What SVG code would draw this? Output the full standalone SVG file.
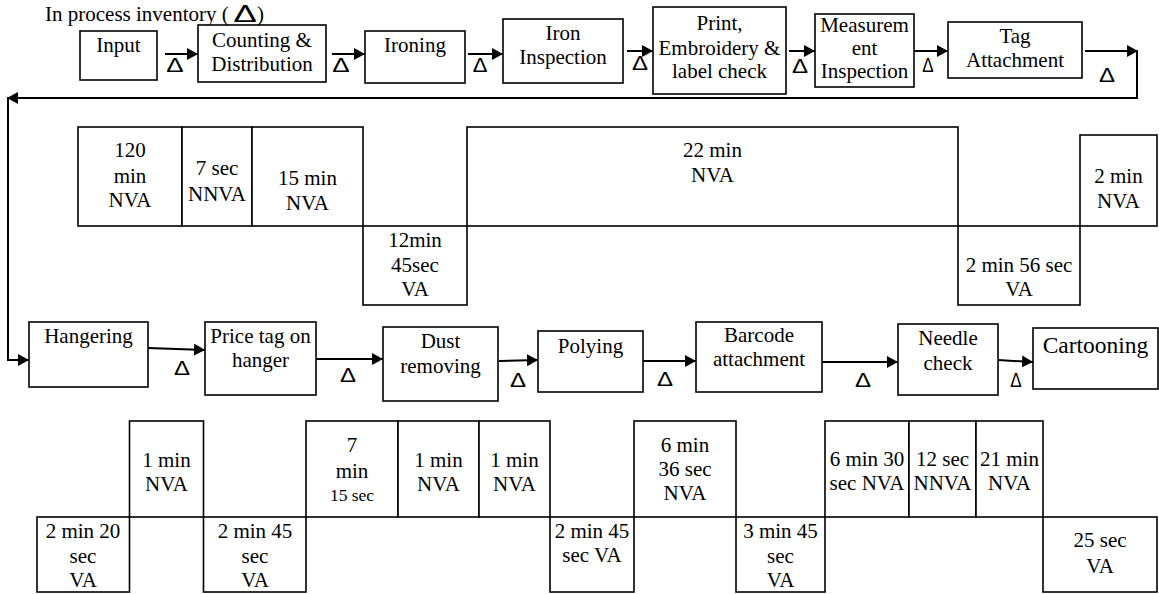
<svg xmlns="http://www.w3.org/2000/svg" width="1159" height="594" viewBox="0 0 1159 594">
<defs>
<marker id="ah" markerUnits="userSpaceOnUse" markerWidth="12" markerHeight="12" refX="11" refY="6" orient="auto">
<path d="M0,0 L11,6 L0,12 z" fill="#000"/>
</marker>
<style>
rect{fill:#fff;stroke:#000;stroke-width:1.6}
text{font-family:"Liberation Serif","Times New Roman",serif;font-size:21px;fill:#000;text-anchor:middle}
.s{font-size:17.5px}
.c{font-size:23.5px}
.l{text-anchor:start}
.d{font-family:"Liberation Sans",Arial,sans-serif;font-size:20px}
.hd{font-family:"Liberation Sans",Arial,sans-serif;font-size:24px}
#connectors path{fill:none;stroke:#000;stroke-width:2}
</style>
</defs>
<rect x="0" y="0" width="1159" height="594" style="fill:#fff;stroke:none"/>
<g id="legend">
<text class="l" x="45" y="21">In process inventory (</text>
<text class="hd" transform="translate(245,22) scale(1.45,1)">Δ</text>
<text class="l" x="257" y="21">)</text>
</g>
<g id="connectors">
<path d="M165,54 H198" marker-end="url(#ah)"/>
<path d="M332,54 H365" marker-end="url(#ah)"/>
<path d="M468,54 H503" marker-end="url(#ah)"/>
<path d="M627,51 H653" marker-end="url(#ah)"/>
<path d="M789,51 H815" marker-end="url(#ah)"/>
<path d="M914,51 H948" marker-end="url(#ah)"/>
<path d="M1085,51 H1138" marker-end="url(#ah)"/>
<path d="M1137,51 V98 H7" marker-end="url(#ah)"/>
<path d="M8,98 V360 H29" marker-end="url(#ah)"/>
<path d="M148,348 L205,350" marker-end="url(#ah)"/>
<path d="M316,359 H383" marker-end="url(#ah)"/>
<path d="M499,361 L538,360" marker-end="url(#ah)"/>
<path d="M643,361 H696" marker-end="url(#ah)"/>
<path d="M822,362 H898" marker-end="url(#ah)"/>
<path d="M998,360 L1033,362" marker-end="url(#ah)"/>
</g>
<g id="inventory">
<text class="d" transform="translate(175,72) scale(1.3,1)">Δ</text>
<text class="d" transform="translate(341,72) scale(1.3,1)">Δ</text>
<text class="d" transform="translate(480,72) scale(1.1,1)">Δ</text>
<text class="d" transform="translate(640,70) scale(1.2,1)">Δ</text>
<text class="d" transform="translate(800,73) scale(1.2,1)">Δ</text>
<text class="d" transform="translate(928,72) scale(0.85,1)">Δ</text>
<text class="d" transform="translate(1107,82) scale(1.2,1)">Δ</text>
<text class="d" transform="translate(182,375) scale(1.2,1)">Δ</text>
<text class="d" transform="translate(348,382) scale(1.2,1)">Δ</text>
<text class="d" transform="translate(518,387) scale(1.2,1)">Δ</text>
<text class="d" transform="translate(665,386) scale(1.2,1)">Δ</text>
<text class="d" transform="translate(863,387) scale(1.2,1)">Δ</text>
<text class="d" transform="translate(1016,387) scale(0.85,1)">Δ</text>
</g>
<g id="input"><rect x="80" y="31" width="77" height="49"/><text x="118.5" y="52">Input</text></g>
<g id="counting"><rect x="198" y="25" width="128" height="57"/><text x="262" y="47">Counting &amp;</text><text x="262" y="71">Distribution</text></g>
<g id="ironing"><rect x="365" y="31" width="100" height="52"/><text x="415" y="52">Ironing</text></g>
<g id="iron-inspection"><rect x="503" y="19" width="120" height="64"/><text x="563" y="40">Iron</text><text x="563" y="64">Inspection</text></g>
<g id="print"><rect x="653" y="7" width="133" height="87"/><text x="719.5" y="30">Print,</text><text x="719.5" y="55">Embroidery &amp;</text><text x="719.5" y="78">label check</text></g>
<g id="measurement"><rect x="815" y="14" width="99" height="73"/><text x="864.5" y="32">Measurem</text><text x="864.5" y="55">ent</text><text x="864.5" y="78">Inspection</text></g>
<g id="tag"><rect x="948" y="22" width="134" height="56"/><text x="1015" y="43">Tag</text><text x="1015" y="67">Attachment</text></g>
<g id="t1-1"><rect x="78" y="127" width="104" height="99"/><text x="130" y="157">120</text><text x="130" y="183">min</text><text x="130" y="207">NVA</text></g>
<g id="t1-2"><rect x="182" y="127" width="70" height="99"/><text x="217" y="175">7 sec</text><text x="217" y="201">NNVA</text></g>
<g id="t1-3"><rect x="252" y="127" width="111" height="99"/><text x="307.5" y="185">15 min</text><text x="307.5" y="210">NVA</text></g>
<g id="t1-4"><rect x="363" y="226" width="104" height="79"/><text x="415" y="247">12min</text><text x="415" y="272">45sec</text><text x="415" y="296">VA</text></g>
<g id="t1-5"><rect x="467" y="127" width="491" height="99"/><text x="712.5" y="157">22 min</text><text x="712.5" y="182">NVA</text></g>
<g id="t1-6"><rect x="958" y="226" width="122" height="79"/><text x="1019" y="272">2 min 56 sec</text><text x="1019" y="296">VA</text></g>
<g id="t1-7"><rect x="1080" y="135" width="77" height="91"/><text x="1118.5" y="183">2 min</text><text x="1118.5" y="208">NVA</text></g>
<g id="hangering"><rect x="29" y="322" width="119" height="65"/><text x="88.5" y="343">Hangering</text></g>
<g id="price-tag"><rect x="205" y="322" width="111" height="73"/><text x="260.5" y="343">Price tag on</text><text x="260.5" y="367">hanger</text></g>
<g id="dust"><rect x="383" y="327" width="115" height="74"/><text x="440.5" y="348">Dust</text><text x="440.5" y="373">removing</text></g>
<g id="polying"><rect x="538" y="331" width="105" height="61"/><text x="590.5" y="353">Polying</text></g>
<g id="barcode"><rect x="696" y="322" width="126" height="70"/><text x="759" y="342">Barcode</text><text x="759" y="366">attachment</text></g>
<g id="needle"><rect x="898" y="324" width="100" height="71"/><text x="948" y="345">Needle</text><text x="948" y="370">check</text></g>
<g id="cartooning"><rect x="1033" y="328" width="125" height="61"/><text class="c" x="1095.5" y="353">Cartooning</text></g>
<g id="t2-1"><rect x="37" y="517" width="92.5" height="75"/><text x="83" y="538">2 min 20</text><text x="83" y="563">sec</text><text x="83" y="587">VA</text></g>
<g id="t2-2"><rect x="129.5" y="421" width="74" height="96"/><text x="166.5" y="467">1 min</text><text x="166.5" y="491">NVA</text></g>
<g id="t2-3"><rect x="203.5" y="517" width="102.5" height="75"/><text x="255" y="538">2 min 45</text><text x="255" y="563">sec</text><text x="255" y="587">VA</text></g>
<g id="t2-4"><rect x="306" y="421" width="92" height="96"/><text x="352" y="452">7</text><text x="352" y="478">min</text><text class="s" x="352" y="501">15 sec</text></g>
<g id="t2-5"><rect x="398" y="421" width="81" height="96"/><text x="438.5" y="467">1 min</text><text x="438.5" y="491">NVA</text></g>
<g id="t2-6"><rect x="479" y="421" width="71" height="96"/><text x="514.5" y="467">1 min</text><text x="514.5" y="491">NVA</text></g>
<g id="t2-7"><rect x="550" y="517" width="84" height="75"/><text x="592" y="538">2 min 45</text><text x="592" y="562">sec VA</text></g>
<g id="t2-8"><rect x="634" y="421" width="102" height="96"/><text x="685" y="452">6 min</text><text x="685" y="476">36 sec</text><text x="685" y="500">NVA</text></g>
<g id="t2-9"><rect x="736" y="517" width="89" height="75"/><text x="780.5" y="538">3 min 45</text><text x="780.5" y="563">sec</text><text x="780.5" y="587">VA</text></g>
<g id="t2-10"><rect x="825" y="421" width="84" height="96"/><text x="867" y="466">6 min 30</text><text x="867" y="490">sec NVA</text></g>
<g id="t2-11"><rect x="909" y="421" width="67" height="96"/><text x="942.5" y="466">12 sec</text><text x="942.5" y="490">NNVA</text></g>
<g id="t2-12"><rect x="976" y="421" width="67" height="96"/><text x="1009.5" y="466">21 min</text><text x="1009.5" y="490">NVA</text></g>
<g id="t2-13"><rect x="1043" y="517" width="114" height="75"/><text x="1100" y="547">25 sec</text><text x="1100" y="573">VA</text></g>
</svg>
